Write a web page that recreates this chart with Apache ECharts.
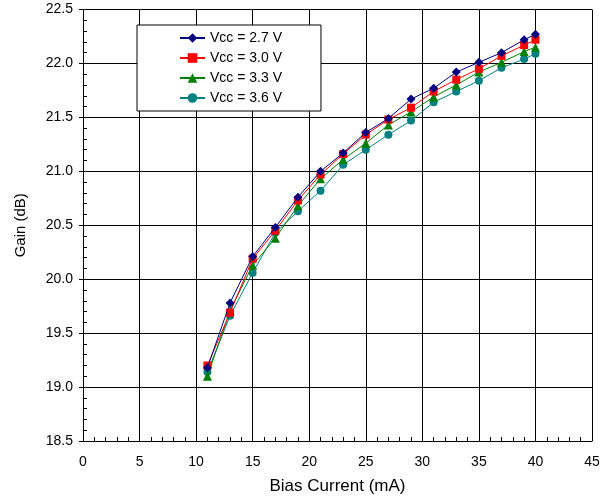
<!DOCTYPE html>
<html><head><meta charset="utf-8">
<script src="https://cdn.jsdelivr.net/npm/echarts@6/dist/echarts.min.js"></script>
<style>html,body{margin:0;padding:0;background:#fff}#c{width:613px;height:501px}</style>
</head><body><div id="c"></div>
<script>
const biasCurrent = [11,13,15,17,19,21,23,25,27,29,31,33,35,37,39,40];
const vcc27 = [19.18,19.78,20.21,20.48,20.76,21.00,21.17,21.36,21.49,21.67,21.77,21.92,22.01,22.10,22.22,22.27];
const vcc30 = [19.20,19.69,20.19,20.45,20.73,20.97,21.16,21.34,21.48,21.59,21.74,21.85,21.95,22.07,22.17,22.22];
const vcc33 = [19.10,19.71,20.13,20.38,20.68,20.93,21.11,21.26,21.43,21.55,21.69,21.80,21.92,22.01,22.11,22.15];
const vcc36 = [19.14,19.66,20.06,20.43,20.63,20.82,21.06,21.20,21.34,21.47,21.64,21.74,21.84,21.96,22.04,22.09];
const seriesNames = ['Vcc = 2.7 V','Vcc = 3.0 V','Vcc = 3.3 V','Vcc = 3.6 V'];
const xTicks = [0,5,10,15,20,25,30,35,40,45];
const yTicks = [18.5,19.0,19.5,20.0,20.5,21.0,21.5,22.0,22.5];

const colors = ['#000080','#ff0000','#008000','#008080'];
const symbols = ['diamond','rect','triangle','circle'];
const sizes = [9,8,9,8];
const allData = [vcc27,vcc30,vcc33,vcc36];
const font = 'Arial, "Liberation Sans", sans-serif';

const chart = echarts.init(document.getElementById('c'), null, {renderer:'canvas'});
chart.setOption({
  animation:false,
  backgroundColor:'#fff',
  grid:{left:83,top:9.5,right:21,bottom:60,containLabel:false},
  legend:{
    orient:'vertical', left:137, top:25,
    data:seriesNames,
    backgroundColor:'#fff', borderColor:'#000', borderWidth:1,
    padding:[6,39,6,42],
    itemWidth:25, itemHeight:12, itemGap:6, itemTextGap:5,
    textStyle:{fontFamily:font,fontSize:14,color:'#000'}
  },
  xAxis:{
    type:'value', min:0, max:45, interval:5,
    name:'Bias Current (mA)', nameLocation:'middle', nameGap:37,
    nameTextStyle:{fontFamily:font,fontSize:17,color:'#000'},
    axisLine:{show:true,onZero:false,lineStyle:{color:'#000',width:1}},
    axisTick:{show:true,inside:true,length:0,lineStyle:{color:'#000'}},
    minorTick:{show:true,splitNumber:5,length:4,lineStyle:{color:'#000'}},
    axisLabel:{fontFamily:font,fontSize:14,color:'#000',margin:14,
      formatter:v=>xTicks.includes(v)?String(v):''},
    splitLine:{show:true,lineStyle:{color:'#000',width:1}}
  },
  yAxis:[{
    type:'value', min:18.5, max:22.5, interval:0.5,
    name:'Gain (dB)', nameLocation:'middle', nameGap:55, nameRotate:90,
    nameTextStyle:{fontFamily:font,fontSize:15,color:'#000'},
    axisLine:{show:true,onZero:false,lineStyle:{color:'#000',width:1}},
    axisTick:{show:true,inside:true,length:0,lineStyle:{color:'#000'}},
    minorTick:{show:true,splitNumber:5,length:4,lineStyle:{color:'#000'}},
    axisLabel:{fontFamily:font,fontSize:14,color:'#000',margin:10,
      formatter:v=>yTicks.some(t=>Math.abs(t-v)<1e-6)?v.toFixed(1):''},
    splitLine:{show:true,lineStyle:{color:'#000',width:1}}
  },{
    type:'value', min:18.5, max:22.5, interval:0.5, position:'left',
    axisLine:{show:false},
    axisTick:{show:true,inside:false,length:4,lineStyle:{color:'#000'}},
    axisLabel:{show:false}, splitLine:{show:false}
  }],
  series: allData.map((d,i)=>({
    name:seriesNames[i], type:'line', yAxisIndex:0,
    data: biasCurrent.map((x,j)=>[x,d[j]]),
    symbol:symbols[i], symbolSize:sizes[i], showAllSymbol:true,
    lineStyle:{color:colors[i],width:1},
    itemStyle:{color:colors[i],borderWidth:0},
    z:10-i
  })).reverse()
});
</script></body></html>
